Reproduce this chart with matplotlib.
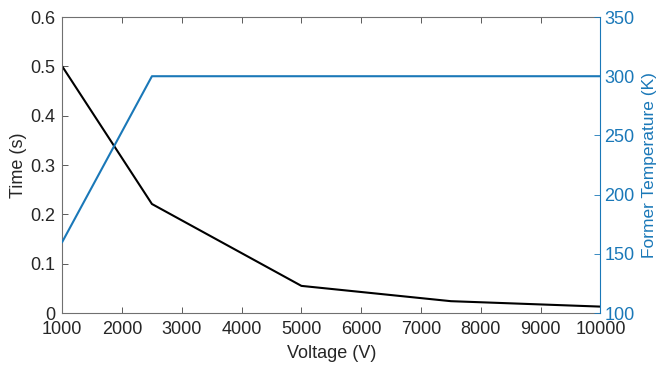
import matplotlib
matplotlib.use('Agg')
import matplotlib.pyplot as plt

plt.rcParams['font.family'] = ['Liberation Sans', 'DejaVu Sans']

voltage = [1000, 2500, 5000, 7500, 10000]
time_s = [0.5, 0.221, 0.055, 0.024, 0.013]
temp_k = [160, 300, 300, 300, 300]

axcol = '#404040'
blue = '#1a78b8'

fig = plt.figure(figsize=(6.62, 3.70), dpi=100)
ax = fig.add_axes([0.094, 0.154, 0.813, 0.800])
ax2 = ax.twinx()

ax.plot(voltage, time_s, color='black', lw=1.5)
ax2.plot(voltage, temp_k, color=blue, lw=1.5)

ax.set_xlim(1000, 10000)
ax.set_ylim(0, 0.6)
ax2.set_ylim(100, 350)
ax.set_xticks(range(1000, 10001, 1000))
ax.set_yticks([0, 0.1, 0.2, 0.3, 0.4, 0.5, 0.6])
ax.set_yticklabels(['0', '0.1', '0.2', '0.3', '0.4', '0.5', '0.6'])
ax2.set_yticks(range(100, 351, 50))

ax.set_xlabel('Voltage (V)', fontsize=13, color='#262626', labelpad=5)
ax.set_ylabel('Time (s)', fontsize=13, color='#262626', labelpad=2)
ax2.set_ylabel('Former Temperature (K)', fontsize=12.5, color=blue, labelpad=5)

ax.tick_params(axis='both', direction='in', labelsize=13, colors=axcol,
               labelcolor='#262626', length=4, width=0.6, top=True, pad=4)
ax.tick_params(axis='x', pad=6)
ax.tick_params(axis='y', right=False, pad=5)
ax2.tick_params(axis='y', direction='in', labelsize=13, colors=blue,
                labelcolor=blue, length=4, width=0.6, pad=3)

for s in ['left', 'bottom', 'top']:
    ax.spines[s].set_color('#707070')
    ax.spines[s].set_linewidth(0.8)
for s in ['left', 'bottom', 'top']:
    ax2.spines[s].set_visible(False)
ax.spines['right'].set_visible(False)
ax2.spines['right'].set_color(blue)
ax2.spines['right'].set_linewidth(0.8)

fig.savefig('out.png', dpi=100)
